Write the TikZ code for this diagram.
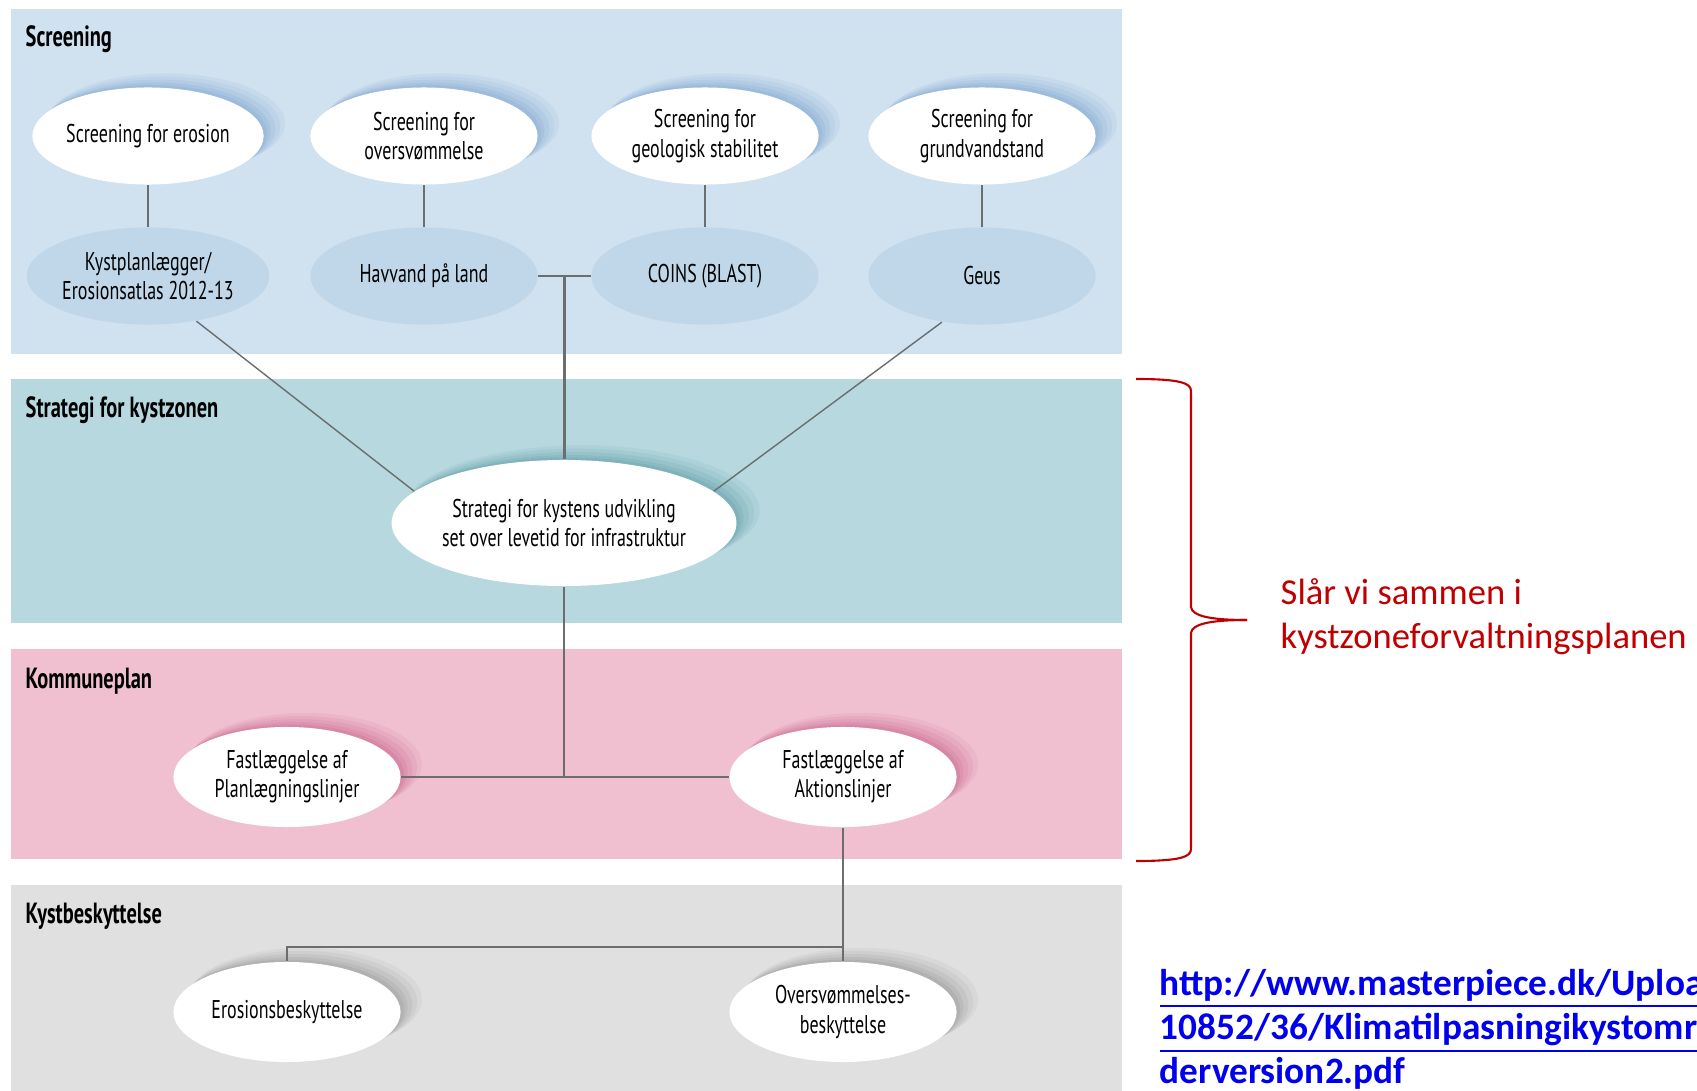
\documentclass[tikz,border=0pt]{standalone}
\usepackage{fontspec}
\setmainfont{PT Sans}
\newfontfamily\labelfont[FakeStretch=0.7]{PT Sans}
\newfontfamily\notefont{Carlito}
\usepackage{tikz}
\usetikzlibrary{shapes.geometric,shadows}
\usepackage{xcolor}
\definecolor{scrbg}{HTML}{D0E1F0}
\definecolor{scrnode}{HTML}{BFD7E9}
\definecolor{scrshade}{HTML}{7FA6CF}
\definecolor{strbg}{HTML}{B6D8DE}
\definecolor{strshade}{HTML}{5F9CA6}
\definecolor{kombg}{HTML}{F0C0D1}
\definecolor{komshade}{HTML}{C9678C}
\definecolor{kysbg}{HTML}{E0E0E0}
\definecolor{kysshade}{HTML}{959595}
\definecolor{connline}{HTML}{6A6E6E}
\definecolor{notered}{HTML}{C00000}
\definecolor{urlblue}{HTML}{0000EE}

\begin{document}
\begin{tikzpicture}[x=0.01cm,y=-0.01cm]
\tikzset{
    glow/.style={%
        general shadow={shadow xshift=5pt, shadow yshift=3.5pt, shadow scale=1.03, fill=#1, opacity=0.1},
        general shadow={shadow xshift=4pt, shadow yshift=2.8pt, shadow scale=1.02, fill=#1, opacity=0.13},
        general shadow={shadow xshift=3pt, shadow yshift=2.1pt, shadow scale=1.01, fill=#1, opacity=0.16},
        general shadow={shadow xshift=2pt, shadow yshift=1.4pt, fill=#1, opacity=0.2},
        general shadow={shadow xshift=1pt, shadow yshift=0.7pt, fill=#1, opacity=0.25}
        },
    bubble/.style={%
        ellipse, fill=white,
        minimum width=2.27cm,
        minimum height=0.97cm,
        inner sep=0pt, align=center,
        font=\labelfont\fontsize{7.3}{8.3}\selectfont
        },
    source/.style={%
        bubble, fill=scrnode
        },
    head/.style={%
        anchor=west, inner sep=0pt,
        font=\labelfont\bfseries\fontsize{8.3}{9}\selectfont
        },
    conn/.style={draw=connline, line width=0.7pt},
    thin conn/.style={draw=connline, line width=0.4pt},
}
\useasboundingbox (0,0) rectangle (1697,1091);
%%%PANELS
\fill[scrbg] (11,9) rectangle (1122,354);
\fill[strbg] (11,379) rectangle (1122,623);
\fill[kombg] (11,649) rectangle (1122,859);
\fill[kysbg] (11,885) rectangle (1122,1091);
\node[head] (hscr) at (25,39) {Screening};
\node[head] (hstr) at (25,410) {Strategi for kystzonen};
\node[head] (hkom) at (25,681) {Kommuneplan};
\node[head] (hkys) at (25,916) {Kystbeskyttelse};
%%%SCREENING
\node[bubble, glow=scrshade] (s1) at (148,136) {Screening for erosion};
\node[bubble, glow=scrshade] (s2) at (424,136) {Screening for\\oversvømmelse};
\node[bubble, glow=scrshade] (s3) at (705,136) {Screening for\\geologisk stabilitet};
\node[bubble, glow=scrshade] (s4) at (982,136) {Screening for\\grundvandstand};
\node[source] (c1) at (148,276) {Kystplanlægger/\\Erosionsatlas 2012-13};
\node[source] (c2) at (424,276) {Havvand på land};
\node[source] (c3) at (705,276) {COINS (BLAST)};
\node[source] (c4) at (982,276) {Geus};
%%%STRATEGI
\node[bubble, glow=strshade, minimum width=3.4cm, minimum height=1.26cm] (strat) at (564,523) {Strategi for kystens udvikling\\set over levetid for infrastruktur};
%%%KOMMUNEPLAN
\node[bubble, glow=komshade, minimum height=1cm] (plan) at (287,777) {Fastlæggelse af\\Planlægningslinjer};
\node[bubble, glow=komshade, minimum height=1cm] (akt) at (843,777) {Fastlæggelse af\\Aktionslinjer};
%%%KYSTBESKYTTELSE
\node[bubble, glow=kysshade, minimum height=1cm] (ero) at (287,1012) {Erosionsbeskyttelse};
\node[bubble, glow=kysshade, minimum height=1cm] (ovs) at (843,1012) {Oversvømmelses-\\beskyttelse};
\coordinate (kj) at (843,947);
%%%CONNECTORS
\foreach \i in {1,...,4}
    \draw[conn] (s\i) -- (c\i);
\draw[conn] (c2.east) -- (c3.west) coordinate[midway] (cj);
\draw[conn] (cj) -- (cj |- strat.north);
\draw[thin conn] (c1.-43) -- (strat.168);
\draw[thin conn] (c4.-131) -- (strat.12);
\draw[conn] (plan.east) -- (akt.west);
\draw[conn] (strat.south) -- (strat.south |- plan.east);
\draw[conn] (akt.south) -- (ovs.north);
\draw[conn] (ero.north) |- (kj);
%%%NOTE
\draw[notered, line width=0.6pt] (1136,379) .. controls (1180,379) and (1191,383) .. (1191,391) -- (1191,607) .. controls (1192,615) and (1206,620) .. (1247,620);
\draw[notered, line width=0.6pt] (1136,861) .. controls (1180,861) and (1191,857) .. (1191,849) -- (1191,633) .. controls (1192,625) and (1206,620) .. (1247,620);
\node[anchor=west, align=left, text=notered, inner sep=0pt,
      font=\notefont\fontsize{10.4}{12.6}\selectfont] (note) at (1280,617) {Slår vi sammen i\\kystzoneforvaltningsplanen};
\node[anchor=west, align=left, text=urlblue, inner sep=0pt,
      font=\notefont\bfseries\fontsize{10.6}{12.6}\selectfont] (url) at (1159,1033)
      {\underline{http://www.masterpiece.dk/Uploa}\\\underline{10852/36/Klimatilpasningikystomr}\\\underline{derversion2.pdf}};
\end{tikzpicture}
\end{document}
